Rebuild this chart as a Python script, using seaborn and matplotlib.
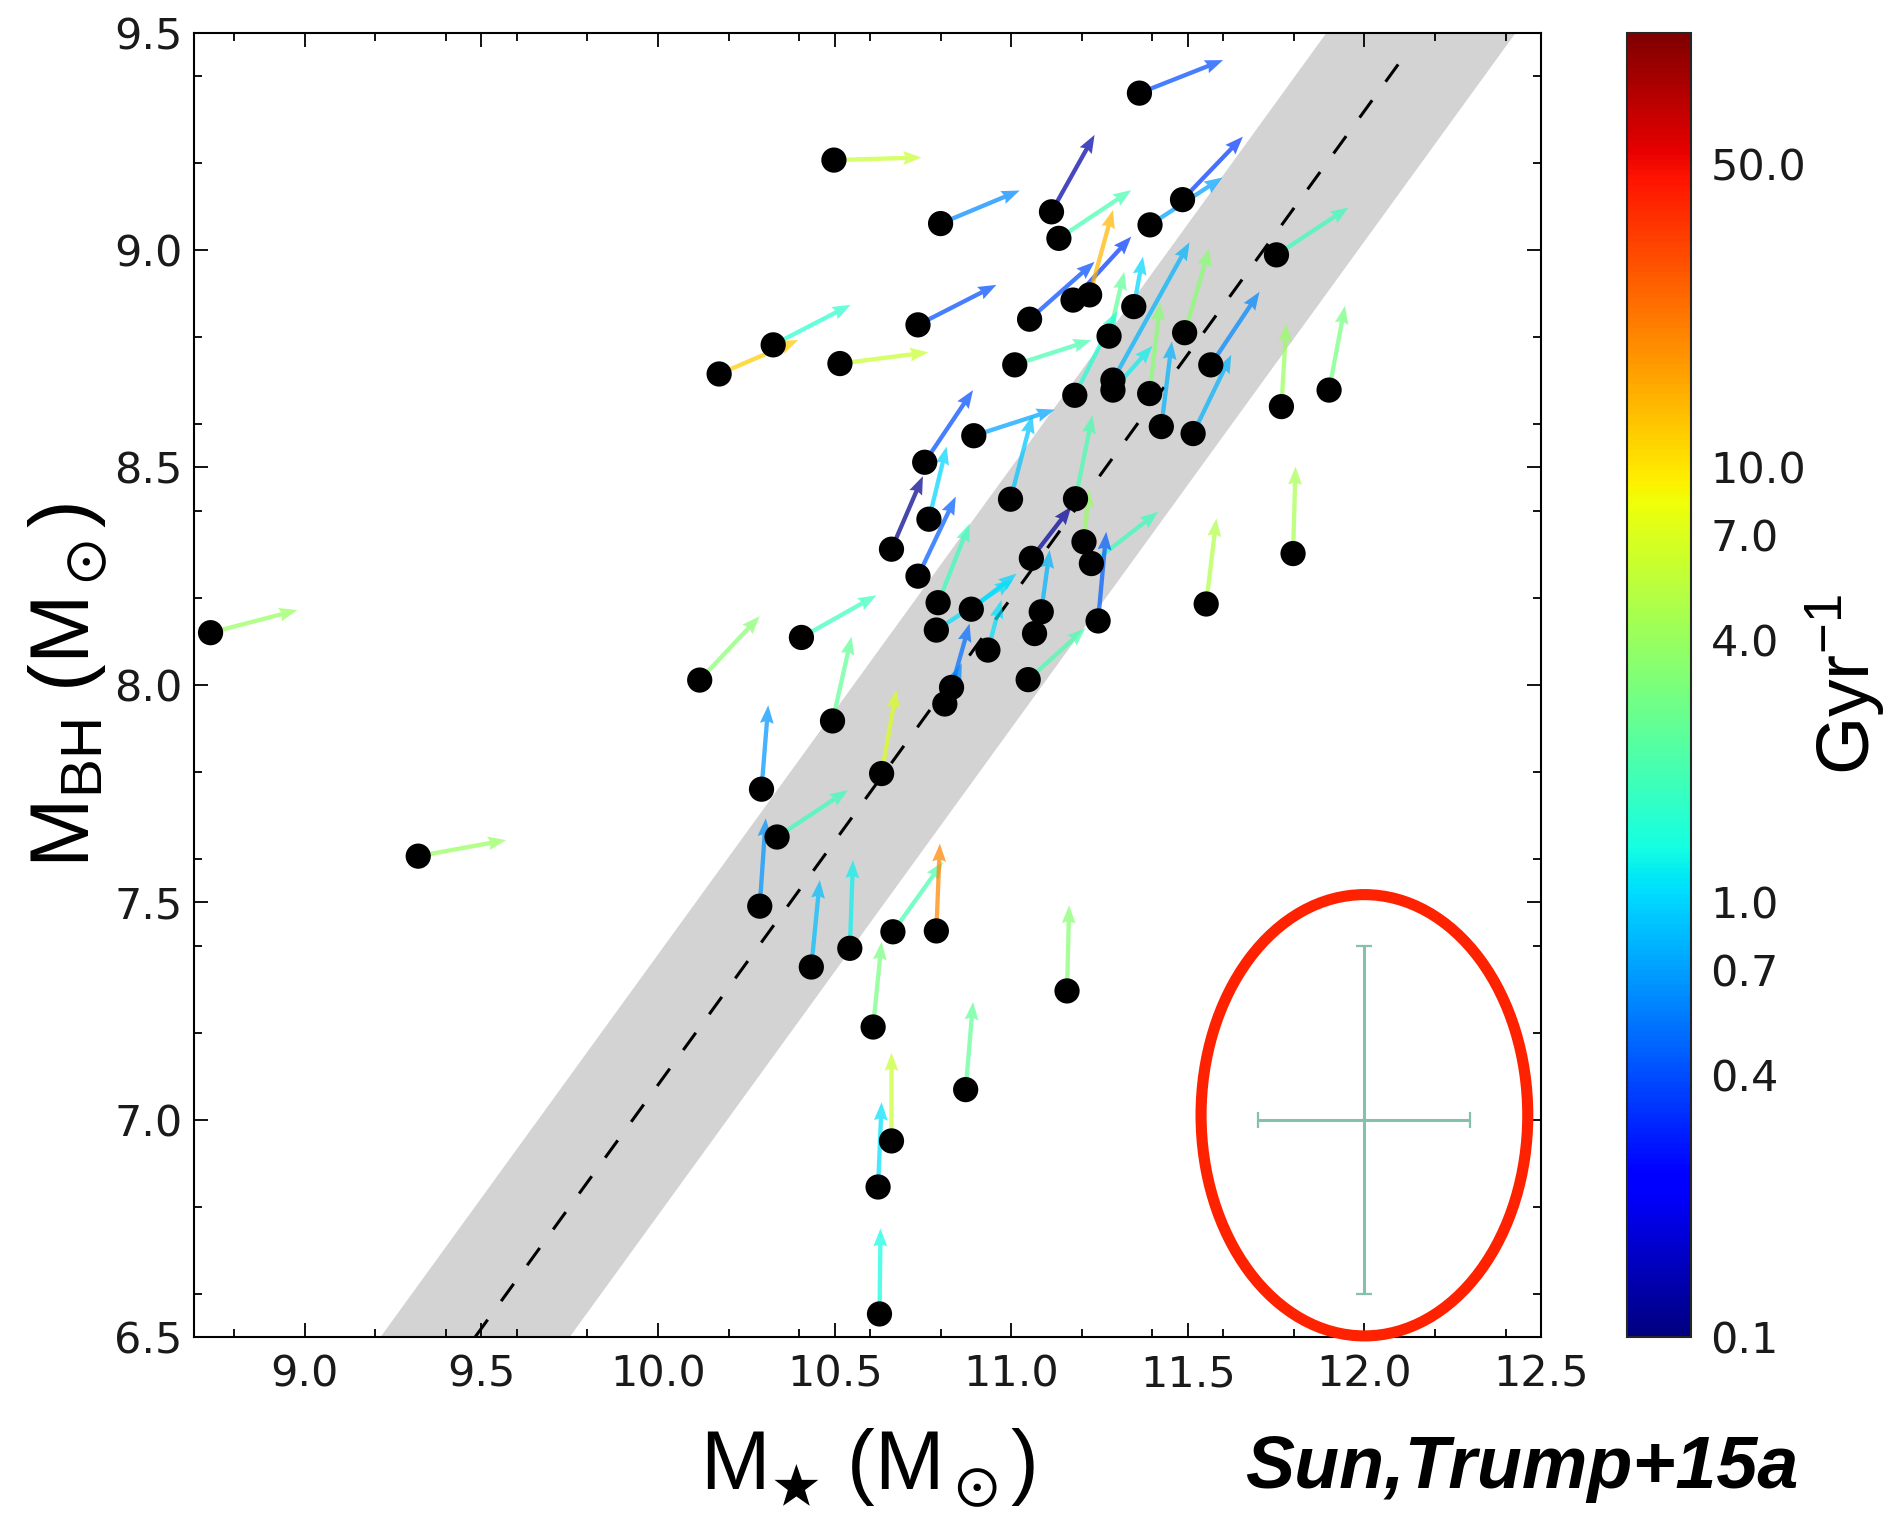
import numpy as np
import pandas as pd
import matplotlib
matplotlib.use("Agg")
import matplotlib.pyplot as plt
import seaborn as sns
from matplotlib.colors import LogNorm
from matplotlib.patches import Ellipse
from matplotlib.ticker import MultipleLocator, FixedLocator, FixedFormatter
import matplotlib.cm as cm

# ---------------- data ----------------
mstar = [8.733, 9.321, 10.498, 11.363, 10.800, 11.114, 11.135, 11.485, 11.393, 11.751,
         10.326, 10.173, 10.515, 10.736, 11.052, 11.175, 11.222, 11.347, 11.010, 11.277,
         11.491, 11.565, 11.900, 11.765, 11.180, 11.288, 11.288, 11.392, 11.425, 11.515,
         10.894, 10.755, 10.767, 10.661, 10.736, 10.998, 11.182, 11.057, 11.206, 11.227,
         11.085, 11.066, 11.048, 11.246, 10.887, 10.793, 10.788, 10.934, 10.831, 10.812,
         10.406, 10.118, 10.494, 10.633, 10.293, 10.337, 10.288, 10.434, 10.543, 10.665,
         10.788, 10.609, 10.871, 11.158, 10.661, 10.623, 10.627, 11.552, 11.798]
mbh = [8.120, 7.606, 9.207, 9.361, 9.061, 9.088, 9.027, 9.116, 9.058, 8.989,
       8.782, 8.715, 8.739, 8.828, 8.841, 8.885, 8.897, 8.870, 8.736, 8.802,
       8.810, 8.736, 8.678, 8.640, 8.666, 8.701, 8.678, 8.670, 8.594, 8.578,
       8.573, 8.512, 8.381, 8.312, 8.250, 8.427, 8.428, 8.291, 8.329, 8.279,
       8.168, 8.118, 8.012, 8.147, 8.174, 8.189, 8.126, 8.080, 7.994, 7.956,
       8.109, 8.011, 7.917, 7.796, 7.760, 7.650, 7.491, 7.351, 7.394, 7.432,
       7.434, 7.213, 7.069, 7.296, 6.951, 6.845, 6.553, 8.186, 8.302]
mstar_end = [8.979, 9.570, 10.746, 11.600, 11.024, 11.236, 11.340, 11.656, 11.598, 11.955,
             10.545, 10.397, 10.765, 10.958, 11.236, 11.340, 11.288, 11.373, 11.227, 11.320,
             11.562, 11.703, 11.945, 11.779, 11.300, 11.505, 11.400, 11.422, 11.455, 11.623,
             11.123, 10.892, 10.817, 10.750, 10.843, 11.060, 11.230, 11.170, 11.220, 11.416,
             11.109, 11.090, 11.210, 11.269, 11.015, 10.882, 11.005, 10.972, 10.882, 10.860,
             10.618, 10.288, 10.548, 10.675, 10.312, 10.538, 10.305, 10.458, 10.552, 10.807,
             10.798, 10.633, 10.892, 11.164, 10.661, 10.633, 10.630, 11.581, 11.805]
mbh_end = [8.172, 7.643, 9.213, 9.437, 9.137, 9.265, 9.138, 9.261, 9.167, 9.098,
           8.874, 8.793, 8.765, 8.920, 8.973, 9.031, 9.092, 8.985, 8.793, 8.950,
           9.005, 8.904, 8.872, 8.831, 8.860, 9.018, 8.780, 8.880, 8.790, 8.759,
           8.633, 8.678, 8.548, 8.480, 8.433, 8.620, 8.620, 8.410, 8.450, 8.398,
           8.310, 8.200, 8.130, 8.352, 8.256, 8.371, 8.241, 8.195, 8.141, 8.050,
           8.206, 8.158, 8.111, 7.988, 7.953, 7.758, 7.693, 7.551, 7.597, 7.593,
           7.635, 7.409, 7.271, 7.493, 7.154, 7.040, 6.750, 8.383, 8.502]
rate = [4.0, 4.0, 6.0, 0.4, 0.6, 0.13, 2.0, 0.35, 0.7, 1.8,
        1.6, 12.0, 6.0, 0.4, 0.4, 0.35, 14.0, 1.0, 2.0, 2.5,
        3.5, 0.6, 3.0, 4.0, 1.5, 0.8, 1.2, 3.5, 0.8, 0.8,
        0.7, 0.4, 1.0, 0.11, 0.45, 0.9, 2.0, 0.12, 4.0, 1.8,
        0.8, 1.2, 2.0, 0.45, 1.0, 1.8, 1.1, 1.1, 0.5, 0.6,
        1.8, 3.5, 2.5, 7.0, 0.65, 1.8, 0.65, 0.85, 1.2, 2.0,
        20.0, 3.0, 2.5, 3.5, 6.0, 1.1, 1.3, 5.0, 4.5]

# Haring & Rix 2004 relation
hr_norm, hr_slope, hr_pivot, hr_scatter = 8.20, 1.12, 11.0, 0.30

# typical error bar
err_x, err_y = [12.0], [7.0]
err_dx, err_dy = 0.3, 0.4

cbar_ticks = [0.1, 0.4, 0.7, 1.0, 4.0, 7.0, 10.0, 50.0]
cbar_labels = ["0.1", "0.4", "0.7", "1.0", "4.0", "7.0", "10.0", "50.0"]
x_ticks = [9.0, 9.5, 10.0, 10.5, 11.0, 11.5, 12.0, 12.5]
y_ticks = [6.5, 7.0, 7.5, 8.0, 8.5, 9.0, 9.5]

df = pd.DataFrame({"mstar": mstar, "mbh": mbh,
                   "dx": np.array(mstar_end) - np.array(mstar),
                   "dy": np.array(mbh_end) - np.array(mbh),
                   "rate": rate})

# ---------------- style ----------------
sns.set_theme(style="ticks")
plt.rcParams["font.family"] = ["DejaVu Sans"]
plt.rcParams["text.color"] = "black"
plt.rcParams["axes.labelcolor"] = "black"
plt.rcParams["mathtext.fontset"] = "custom"
plt.rcParams["mathtext.rm"] = "Liberation Sans"
plt.rcParams["mathtext.it"] = "Liberation Sans:italic"
plt.rcParams["mathtext.bf"] = "Liberation Sans:bold"
plt.rcParams["mathtext.sf"] = "Liberation Sans"
plt.rcParams["mathtext.fallback"] = "stix"

W, H = 1897, 1518
fig = plt.figure(figsize=(W / 100, H / 100), dpi=100)
fig.patch.set_facecolor("white")
ax = fig.add_axes([193.6 / W, 1 - 1337 / H, (1541 - 193.6) / W, (1337 - 32.7) / H])
cax = fig.add_axes([1627 / W, 1 - 1337 / H, 64 / W, (1337 - 32.7) / H])

xmin, xmax, ymin, ymax = 8.685, 12.5, 6.5, 9.5

# grey band and HR04 relation
xb = np.linspace(xmin, xmax, 200)
yb = hr_norm + hr_slope * (xb - hr_pivot)
ax.fill_between(xb, yb - hr_scatter, yb + hr_scatter, color="#d3d3d3", lw=0, zorder=0)
xl = np.linspace(hr_pivot + (ymin - hr_norm) / hr_slope, hr_pivot + (9.46 - hr_norm) / hr_slope, 50)
ax.plot(xl, hr_norm + hr_slope * (xl - hr_pivot), color="black", lw=2.2,
        linestyle=(0, (7, 7.5)), zorder=1)

norm = LogNorm(vmin=0.1, vmax=100)
cmap = plt.get_cmap("jet")

# arrows
ax.quiver(df["mstar"], df["mbh"], df["dx"], df["dy"], df["rate"], cmap=cmap, norm=norm,
          angles="xy", scale_units="xy", scale=1, width=0.0032, headwidth=3.2,
          headlength=4.2, headaxislength=3.8, alpha=0.72, zorder=2)

# points
sns.scatterplot(data=df, x="mstar", y="mbh", color="black", s=330, edgecolor="none",
                ax=ax, zorder=3, legend=False)

# typical error bar
ax.errorbar(err_x, err_y, xerr=err_dx, yerr=err_dy, fmt="none", ecolor="#86bfac",
            elinewidth=2.2, capsize=6, capthick=1.6, zorder=2)
ell = Ellipse((12.0, 7.01), 0.925, 1.015, fill=False, edgecolor="#ff2200", lw=8,
              clip_on=False, zorder=5)
ax.add_patch(ell)

ax.set_xlim(xmin, xmax)
ax.set_ylim(ymin, ymax)
ax.xaxis.set_major_locator(FixedLocator(x_ticks))
ax.yaxis.set_major_locator(FixedLocator(y_ticks))
ax.xaxis.set_major_formatter(FixedFormatter([f"{v:.1f}" for v in x_ticks]))
ax.yaxis.set_major_formatter(FixedFormatter([f"{v:.1f}" for v in y_ticks]))
ax.xaxis.set_minor_locator(MultipleLocator(0.2))
ax.yaxis.set_minor_locator(MultipleLocator(0.2))
ax.tick_params(which="both", direction="in", top=True, right=True, colors="black",
               width=1.3, labelcolor="#1a1a1a")
ax.tick_params(which="major", length=10, labelsize=31)
ax.tick_params(which="minor", length=6)
ax.tick_params(axis="x", which="major", pad=12)
ax.tick_params(axis="y", which="major", pad=8)
for s in ax.spines.values():
    s.set_visible(True)
    s.set_linewidth(1.5)
    s.set_color("black")

ax.set_xlabel(r"M$_\bigstar$ (M$_\odot$)", fontsize=60, family="Liberation Sans",
              labelpad=22, color="black")
ax.set_ylabel(r"M$_{\mathrm{BH}}$ (M$_\odot$)", fontsize=60, family="Liberation Sans",
              labelpad=4, color="black")

# colorbar
sm = cm.ScalarMappable(norm=norm, cmap=cmap)
cb = fig.colorbar(sm, cax=cax, ticks=cbar_ticks)
cb.ax.set_yticklabels(cbar_labels)
cb.ax.minorticks_off()
cb.ax.tick_params(direction="in", length=12, width=1.3, labelsize=31, pad=14,
                  labelcolor="#1a1a1a")
cb.outline.set_linewidth(1.5)
cb.set_label(r"Gyr$^{-1}$", fontsize=54, family="Liberation Sans", labelpad=-2,
             color="black")

fig.text(1245 / W, 1 - 1488 / H, "Sun,Trump+15a", fontsize=53, family="Liberation Sans",
         fontweight="bold", fontstyle="italic", ha="left", va="baseline", color="black")

fig.savefig("out.png", dpi=100, facecolor="white")
